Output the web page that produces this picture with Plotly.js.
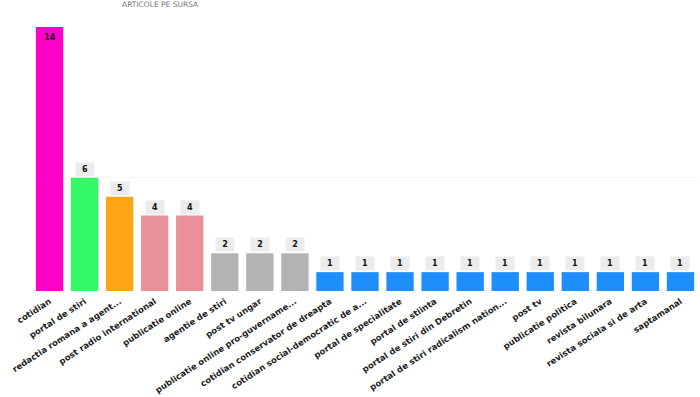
<!DOCTYPE html>
<html>
<head>
<meta charset="utf-8">
<script src="https://cdn.plot.ly/plotly-3.0.1.min.js"></script>
<style>html,body{margin:0;padding:0;background:#fff;}#chart{width:700px;height:397px;}</style>
</head>
<body>
<div id="chart"></div>
<script>
const categories = [
  "cotidian", "portal de stiri", "redactia romana a agent...", "post radio international",
  "publicatie online", "agentie de stiri", "post tv ungar", "publicatie online pro-guvername...",
  "cotidian conservator de dreapta", "cotidian social-democratic de a...", "portal de specialitate",
  "portal de stiinta", "portal de stiri din Debretin", "portal de stiri radicalism nation...",
  "post tv", "publicatie politica", "revista bilunara", "revista sociala si de arta", "saptamanal"
];
const articleCounts = [14, 6, 5, 4, 4, 2, 2, 2, 1, 1, 1, 1, 1, 1, 1, 1, 1, 1, 1];
const barColors = [
  "#ff00c8", "#33f966", "#ffa514", "#e8919a", "#e8919a", "#b3b3b3", "#b3b3b3", "#b3b3b3",
  "#1e8ffa", "#1e8ffa", "#1e8ffa", "#1e8ffa", "#1e8ffa", "#1e8ffa", "#1e8ffa", "#1e8ffa",
  "#1e8ffa", "#1e8ffa", "#1e8ffa"
];
const chartTitle = "ARTICOLE PE SURSA";

const maxVal = Math.max(...articleCounts);
const annotations = categories.map((c, i) => {
  const inside = articleCounts[i] === maxVal;
  return {
    x: c, y: articleCounts[i], xref: "x", yref: "y",
    text: String(articleCounts[i]), showarrow: false,
    yanchor: inside ? "top" : "bottom",
    yshift: inside ? -3 : 1,
    bgcolor: inside ? "rgba(0,0,0,0)" : "#ececec",
    borderpad: 2,
    width: 14,
    font: {family: "DejaVu Sans, Verdana", size: 8, color: "#111", weight: "bold"}
  };
});
annotations.push({
  xref: "paper", yref: "paper", x: 0.193, y: 1, yshift: 29, yanchor: "top", xanchor: "center",
  text: chartTitle, showarrow: false,
  font: {family: "DejaVu Sans, Verdana", size: 7.5, color: "#777"}
});

Plotly.newPlot("chart", [{
  type: "bar",
  x: categories,
  y: articleCounts,
  marker: {color: barColors},
  hoverinfo: "x+y"
}], {
  width: 700, height: 397,
  margin: {l: 32, r: 2, t: 27, b: 106},
  paper_bgcolor: "#fff", plot_bgcolor: "#fff",
  bargap: 0.22,
  showlegend: false,
  xaxis: {
    tickangle: -33, showline: false, ticks: "",
    ticklabelstandoff: 3,
    tickfont: {family: "DejaVu Sans, Verdana", size: 8.5, color: "#222", weight: "bold"},
    automargin: false
  },
  yaxis: {
    range: [0, maxVal], visible: true, showticklabels: false, ticks: "",
    showgrid: true, gridcolor: "#f6f6f6", tickvals: [6], zeroline: false
  },
  annotations: annotations
}, {displayModeBar: false, staticPlot: true});
</script>
</body>
</html>
